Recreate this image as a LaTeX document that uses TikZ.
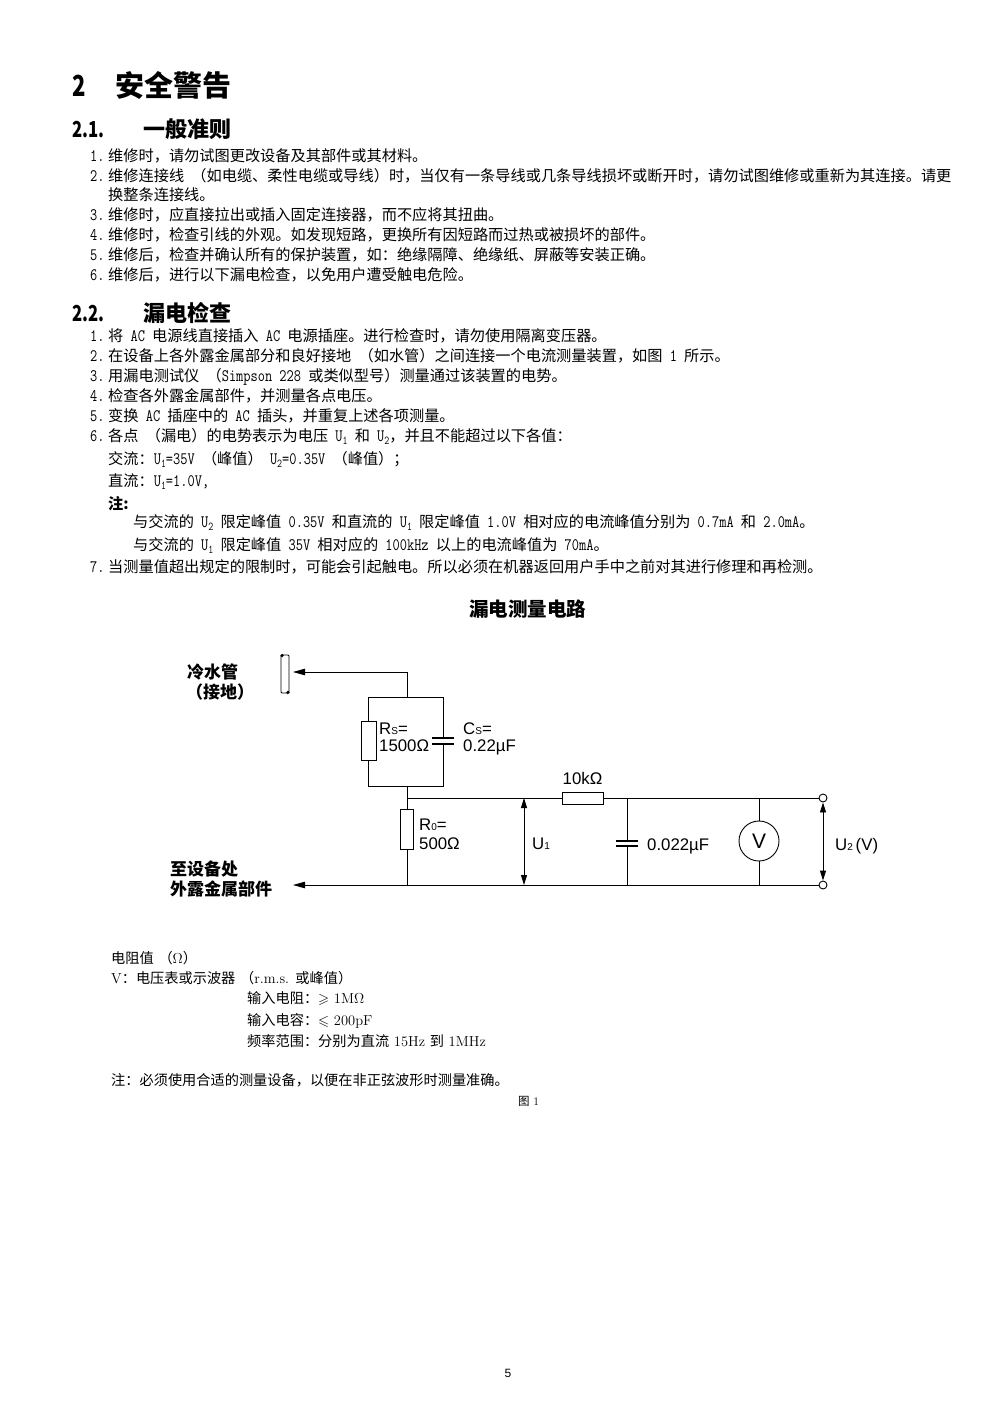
\documentclass[tikz,border=0pt]{standalone}
\usepackage{fontspec}
\usepackage{amssymb}
\usetikzlibrary{arrows.meta}
\newfontfamily\cjk{Noto Sans CJK SC}
\newfontfamily\arial{Liberation Sans}
\newcommand\lat[1]{\scalebox{0.8}[1]{\ttfamily\fontsize{17.5}{18}\selectfont #1}}
\newcommand\latr[1]{{\rmfamily\fontsize{14.5}{18}\selectfont #1}}
\newcommand\Usub[1]{\lat{U}\raisebox{-3pt}{\scalebox{0.8}[1]{\ttfamily\fontsize{12}{12}\selectfont #1}}}
\newcommand\num[1]{\makebox[18pt][l]{\lat{#1}}}
\newcommand\hd[1]{\scalebox{0.76}[1]{#1}}
\tikzset{
  body/.style={font=\cjk\fontsize{15.2}{18}\selectfont, inner sep=0pt, anchor=base west},
  foot/.style={font=\cjk\fontsize{14.2}{18}\selectfont, inner sep=0pt, anchor=base west},
  hA/.style={font=\cjk\bfseries\fontsize{29}{32}\selectfont, inner sep=0pt, anchor=base west},
  hB/.style={font=\cjk\bfseries\fontsize{22}{26}\selectfont, inner sep=0pt, anchor=base west},
  ttl/.style={font=\cjk\bfseries\fontsize{19.5}{22}\selectfont, inner sep=0pt, anchor=base},
  cl/.style={font=\cjk\bfseries\fontsize{17}{20}\selectfont, inner sep=0pt, anchor=base west},
  al/.style={font=\arial\fontsize{16.8}{20}\selectfont, inner sep=0pt, anchor=base west},
  wire/.style={line width=0.9pt, black},
  res/.style={draw, line width=0.9pt, fill=white, inner sep=0pt},
  plate/.style={line width=1.3pt},
  larr/.style={wire, -{Triangle[length=12pt,width=6.5pt]}},
  darr/.style={wire, {Triangle[length=10pt,width=6pt]}-{Triangle[length=10pt,width=6pt]}},
  term/.style={circle, draw, line width=0.9pt, fill=white, minimum size=8pt, inner sep=0pt},
}
\newcommand\sm[1]{{\fontsize{10}{10}\selectfont #1}}
\begin{document}
\begin{tikzpicture}[x=1pt,y=-1pt]
\fill[white] (0,0) rectangle (993,1404);
\useasboundingbox (0,0) rectangle (993,1404);

% ---------- headings ----------
\node[hA] (h1n) at (72,97) {\hd{2}};
\node[hA] (h1t) at (115,97) {安全警告};
\node[hB] (h2n) at (72,138) {\hd{2.1.}};
\node[hB] (h2t) at (143,138) {一般准则};

\node[body] (a1) at (90,162) {\num{1.}维修时，请勿试图更改设备及其部件或其材料。};
\node[body] (a2) at (90,182) {\num{2.}维修连接线\lat{ }（如电缆、柔性电缆或导线）时，当仅有一条导线或几条导线损坏或断开时，请勿试图维修或重新为其连接。请更};
\node[body] (a2b) at (108,201) {换整条连接线。};
\node[body] (a3) at (90,221) {\num{3.}维修时，应直接拉出或插入固定连接器，而不应将其扭曲。};
\node[body] (a4) at (90,241) {\num{4.}维修时，检查引线的外观。如发现短路，更换所有因短路而过热或被损坏的部件。};
\node[body] (a5) at (90,261) {\num{5.}维修后，检查并确认所有的保护装置，如：绝缘隔障、绝缘纸、屏蔽等安装正确。};
\node[body] (a6) at (90,281) {\num{6.}维修后，进行以下漏电检查，以免用户遭受触电危险。};

\node[hB] (h3n) at (72,321) {\hd{2.2.}};
\node[hB] (h3t) at (143,321) {漏电检查};

\node[body] (b1) at (90,341) {\num{1.}将\lat{ AC }电源线直接插入\lat{ AC }电源插座。进行检查时，请勿使用隔离变压器。};
\node[body] (b2) at (90,361) {\num{2.}在设备上各外露金属部分和良好接地\lat{ }（如水管）之间连接一个电流测量装置，如图\lat{ 1 }所示。};
\node[body] (b3) at (90,381) {\num{3.}用漏电测试仪\lat{ }（\lat{Simpson 228 }或类似型号）测量通过该装置的电势。};
\node[body] (b4) at (90,401) {\num{4.}检查各外露金属部件，并测量各点电压。};
\node[body] (b5) at (90,421) {\num{5.}变换\lat{ AC }插座中的\lat{ AC }插头，并重复上述各项测量。};
\node[body] (b6) at (90,441) {\num{6.}各点\lat{ }（漏电）的电势表示为电压\lat{ }\Usub{1}\lat{ }和\lat{ }\Usub{2}，并且不能超过以下各值：};
\node[body] (b6a) at (108,464) {交流：\Usub{1}\lat{=35V }（峰值）\lat{ }\Usub{2}\lat{=0.35V }（峰值）；};
\node[body] (b6b) at (108,486) {直流：\Usub{1}\lat{=1.0V,}};
\node[body, font=\cjk\bfseries\fontsize{15.2}{18}\selectfont] (b6c) at (108,509) {注:};
\node[body] (b6d) at (133,527) {与交流的\lat{ }\Usub{2}\lat{ }限定峰值\lat{ 0.35V }和直流的\lat{ }\Usub{1}\lat{ }限定峰值\lat{ 1.0V }相对应的电流峰值分别为\lat{ 0.7mA }和\lat{ 2.0mA}。};
\node[body] (b6e) at (133,550) {与交流的\lat{ }\Usub{1}\lat{ }限定峰值\lat{ 35V }相对应的\lat{ 100kHz }以上的电流峰值为\lat{ 70mA}。};
\node[body] (b7) at (90,572) {\num{7.}当测量值超出规定的限制时，可能会引起触电。所以必须在机器返回用户手中之前对其进行修理和再检测。};

% ---------- circuit ----------
\node[ttl] (title) at (527.5,616) {漏电测量电路};

\node[cl] (lpipe1) at (187,678) {冷水管};
\node[cl] (lpipe2) at (186,698) {（接地）};
\node[cl] (lmet1) at (170,875) {至设备处};
\node[cl] (lmet2) at (170,895) {外露金属部件};

% pipe
\node[draw, line width=0.9pt, minimum width=8pt, minimum height=38pt, inner sep=0pt, rounded corners=1pt] (pipe) at (285,674) {};
\fill (pipe.north west) ++(1.5,1) circle (1.8pt);
\fill (pipe.south east) ++(-1.5,-1) circle (1.8pt);
\coordinate (ptip) at (293,672);

\coordinate (A) at (407,672);
\coordinate (B) at (407,697);
\coordinate (BL) at (368.5,697);
\coordinate (BR) at (443,697);
\coordinate (CL) at (368.5,786);
\coordinate (CR) at (443,786);
\coordinate (C) at (407,786);
\coordinate (J) at (407,798);
\coordinate (G) at (407,885);
\coordinate (capT) at (443,738);
\coordinate (capB) at (443,744);

\draw[larr] (B) |- (ptip);
\draw[wire] (capT) -- (BR) -- (BL) -- (CL) -- (CR) -- (capB);
\draw[plate] (432,738) -- (454,738);
\draw[plate] (432,744) -- (454,744);
\node[res, minimum width=15pt, minimum height=39pt] (Rs) at (368.5,740.5) {};
\draw[wire] (C) -- (J);

% terminals
\node[term] (T1) at (823,798) {};
\node[term] (T2) at (823,885) {};

% top and bottom wires
\draw[wire] (J) -- (T1);
\coordinate (mtip) at (293,885);
\draw[larr] (T2) -- (mtip);
\node[res, minimum width=41pt, minimum height=12pt] (R10) at (582.5,798) {};

% R0
\draw[wire] (J) -- (G);
\node[res, minimum width=13pt, minimum height=40pt] (R0) at (407,829) {};

% U1 arrow
\coordinate (u1t) at (524,798);
\coordinate (u1b) at (524,885);
\draw[darr] (u1t) -- (u1b);

% 0.022 capacitor
\coordinate (c2t) at (627,798);
\coordinate (c2b) at (627,885);
\coordinate (c2p1) at (627,841);
\coordinate (c2p2) at (627,846);
\draw[wire] (c2t) -- (c2p1);
\draw[wire] (c2p2) -- (c2b);
\draw[plate] (616,841) -- (638,841);
\draw[plate] (616,846) -- (638,846);

% voltmeter
\node[circle, draw, line width=0.9pt, minimum size=40pt, inner sep=0pt, font=\arial\fontsize{21}{21}\selectfont] (Vm) at (759,841) {V};
\coordinate (vt) at (759,798);
\coordinate (vb) at (759,885);
\draw[wire] (vt) -- (Vm.north);
\draw[wire] (Vm.south) -- (vb);

% U2 arrow
\draw[darr] (T1.south) -- (T2.north);

% circuit labels
\node[al] (lRs) at (379,734) {R\sm{S}=};
\node[al] (lRsv) at (379,751) {1500Ω};
\node[al] (lCs) at (463,734) {C\sm{S}=};
\node[al] (lCsv) at (463,751) {0.22µF};
\node[al, anchor=base] (l10k) at (582.5,784) {10kΩ};
\node[al] (lR0) at (419,830) {R\sm{0}=};
\node[al] (lR0v) at (419,849) {500Ω};
\node[al] (lU1) at (532,849) {U\sm{1}};
\node[al] (lC2) at (647,850) {0.022µF};
\node[al] (lU2) at (835,850) {U\sm{2}\,(V)};

% ---------- footnotes ----------
\node[foot] (f1) at (111,963) {电阻值\latr{ }（\latr{$\Omega$}）};
\node[foot] (f2) at (111,983) {\latr{V}：电压表或示波器\latr{ }（\latr{r.m.s. }或峰值）};
\node[foot] (f3) at (247,1003) {输入电阻：$\geqslant$\latr{ 1M$\Omega$}};
\node[foot] (f4) at (247,1025) {输入电容：$\leqslant$\latr{ 200pF}};
\node[foot] (f5) at (247,1046) {频率范围：分别为直流\latr{ 15Hz }到\latr{ 1MHz}};
\node[foot] (f6) at (111,1085) {注：必须使用合适的测量设备，以便在非正弦波形时测量准确。};
\node[foot, font=\cjk\fontsize{11.5}{14}\selectfont] (f7) at (518,1105) {图\latr{\fontsize{11.5}{14}\selectfont{} 1}};

\node[font=\arial\fontsize{12}{14}\selectfont, inner sep=0pt, anchor=base] (pg) at (508,1377) {5};
\end{tikzpicture}
\end{document}
